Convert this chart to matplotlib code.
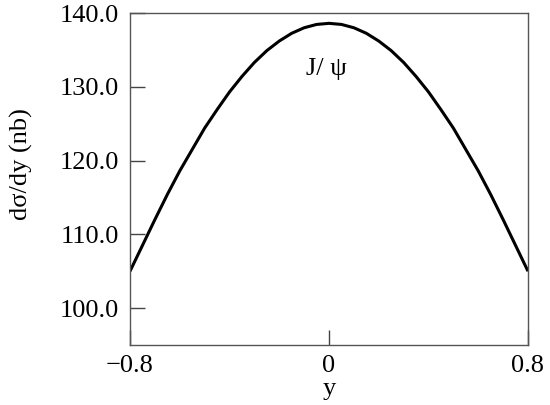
import matplotlib
matplotlib.use("Agg")
import matplotlib.pyplot as plt

rapidity = [-0.8, -0.75, -0.7, -0.65, -0.6, -0.55, -0.5, -0.45, -0.4, -0.35, -0.3, -0.25, -0.2, -0.15, -0.1, -0.05,
            0.0, 0.05, 0.1, 0.15, 0.2, 0.25, 0.3, 0.35, 0.4, 0.45, 0.5, 0.55, 0.6, 0.65, 0.7, 0.75, 0.8]
dsigma_dy = [105.0, 108.5, 112.0, 115.4, 118.6, 121.5, 124.4, 126.9, 129.3, 131.4, 133.3, 134.9, 136.2, 137.25, 138.0, 138.45,
             138.6, 138.45, 138.0, 137.25, 136.2, 134.9, 133.3, 131.4, 129.3, 126.9, 124.4, 121.5, 118.6, 115.4, 112.0, 108.5, 105.0]
y_ticks = [100.0, 110.0, 120.0, 130.0, 140.0]
x_ticks = [-0.8, 0.0, 0.8]
x_tick_labels = ["\u22120.8", "0", "0.8"]

plt.rcParams['font.family'] = ['Liberation Serif', 'DejaVu Serif']

fig = plt.figure(figsize=(5.5, 4.05), dpi=100)
ax = fig.add_axes([0.2364, 0.1481, 0.96 - 0.2364, 0.9679 - 0.1481])

ax.plot(rapidity, dsigma_dy, color='black', lw=2.2, solid_capstyle='butt')
ax.set_xlim(-0.8, 0.8)
ax.set_ylim(95, 140)

ax.set_yticks(y_ticks)
ax.set_yticklabels([f"{v:.1f}" for v in y_ticks])
ax.set_xticks(x_ticks)
ax.set_xticklabels(x_tick_labels)
ax.tick_params(axis='both', direction='in', length=11, width=1, color='#444444', labelsize=19, pad=8)
ax.tick_params(axis='x', pad=7)

for s in ax.spines.values():
    s.set_color('#555555')
    s.set_linewidth(1.0)

ax.set_xlabel("y", fontsize=19)
ax.xaxis.set_label_coords(0.5, -0.1)
ax.set_ylabel("d\u03c3/dy (nb)", fontsize=19)
ax.yaxis.set_label_coords(-0.245, 0.545)

ax.text(-0.01, 132.4, "J/ \u03c8", fontsize=19, ha='center', va='center')

fig.savefig("out.png", dpi=100)
